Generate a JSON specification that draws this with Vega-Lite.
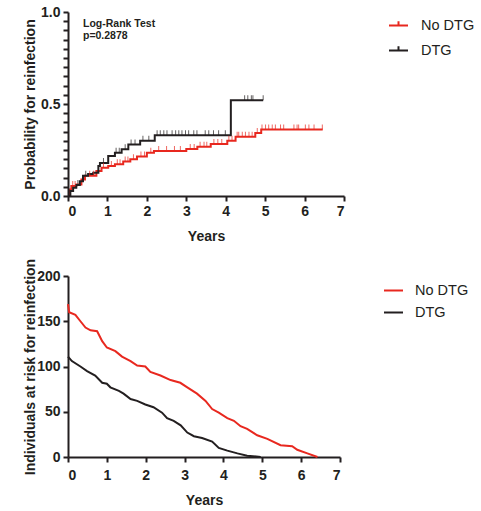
{
  "$schema": "https://vega.github.io/schema/vega-lite/v6.json",
  "padding": {"left": 22, "top": 5, "right": 5, "bottom": 5},
  "background": "white",
  "config": {
    "view": {"stroke": null},
    "font": "Liberation Sans",
    "axis": {
      "grid": false,
      "domainColor": "#231f20",
      "domainWidth": 2,
      "tickColor": "#231f20",
      "tickWidth": 2,
      "tickSize": 5,
      "labelOverlap": false,
      "labelFont": "Liberation Sans",
      "labelFontWeight": "bold",
      "labelFontSize": 14,
      "labelColor": "#231f20",
      "labelPadding": 3,
      "titleFont": "Liberation Sans",
      "titleFontWeight": "bold",
      "titleFontSize": 14,
      "titleColor": "#231f20"
    },
    "legend": {
      "labelFont": "Liberation Sans",
      "labelFontSize": 14.5,
      "labelColor": "#231f20",
      "padding": 0
    }
  },
  "datasets": {
    "km": [
      {"group": "No DTG", "t": 0, "p": 0},
      {"group": "No DTG", "t": 0.04, "p": 0.036},
      {"group": "No DTG", "t": 0.085, "p": 0.054},
      {"group": "No DTG", "t": 0.21, "p": 0.063},
      {"group": "No DTG", "t": 0.34, "p": 0.09},
      {"group": "No DTG", "t": 0.43, "p": 0.11},
      {"group": "No DTG", "t": 0.72, "p": 0.136},
      {"group": "No DTG", "t": 0.85, "p": 0.154},
      {"group": "No DTG", "t": 1.02, "p": 0.163},
      {"group": "No DTG", "t": 1.19, "p": 0.172},
      {"group": "No DTG", "t": 1.4, "p": 0.187},
      {"group": "No DTG", "t": 1.58, "p": 0.2},
      {"group": "No DTG", "t": 1.75, "p": 0.214},
      {"group": "No DTG", "t": 2.0, "p": 0.235},
      {"group": "No DTG", "t": 2.18, "p": 0.245},
      {"group": "No DTG", "t": 3.0, "p": 0.255},
      {"group": "No DTG", "t": 3.28, "p": 0.268},
      {"group": "No DTG", "t": 3.62, "p": 0.283},
      {"group": "No DTG", "t": 4.04, "p": 0.3},
      {"group": "No DTG", "t": 4.25, "p": 0.322},
      {"group": "No DTG", "t": 4.75, "p": 0.342},
      {"group": "No DTG", "t": 4.9, "p": 0.362},
      {"group": "No DTG", "t": 6.46, "p": 0.362},
      {"group": "DTG", "t": 0, "p": 0},
      {"group": "DTG", "t": 0.06, "p": 0.027},
      {"group": "DTG", "t": 0.13, "p": 0.045},
      {"group": "DTG", "t": 0.21, "p": 0.06},
      {"group": "DTG", "t": 0.3, "p": 0.08},
      {"group": "DTG", "t": 0.38, "p": 0.11},
      {"group": "DTG", "t": 0.51, "p": 0.12},
      {"group": "DTG", "t": 0.64, "p": 0.127},
      {"group": "DTG", "t": 0.77, "p": 0.163},
      {"group": "DTG", "t": 0.81, "p": 0.18},
      {"group": "DTG", "t": 1.02, "p": 0.217},
      {"group": "DTG", "t": 1.19, "p": 0.235},
      {"group": "DTG", "t": 1.36, "p": 0.254},
      {"group": "DTG", "t": 1.53, "p": 0.28},
      {"group": "DTG", "t": 1.83, "p": 0.3},
      {"group": "DTG", "t": 2.2, "p": 0.33},
      {"group": "DTG", "t": 4.13, "p": 0.52},
      {"group": "DTG", "t": 4.95, "p": 0.52}
    ],
    "censor": [
      {"group": "No DTG", "t": 0.12, "p": 0.054},
      {"group": "No DTG", "t": 0.18, "p": 0.054},
      {"group": "No DTG", "t": 0.55, "p": 0.11},
      {"group": "No DTG", "t": 0.65, "p": 0.11},
      {"group": "No DTG", "t": 0.9, "p": 0.154},
      {"group": "No DTG", "t": 1.1, "p": 0.163},
      {"group": "No DTG", "t": 1.25, "p": 0.172},
      {"group": "No DTG", "t": 1.32, "p": 0.172},
      {"group": "No DTG", "t": 1.45, "p": 0.187},
      {"group": "No DTG", "t": 1.52, "p": 0.187},
      {"group": "No DTG", "t": 1.66, "p": 0.2},
      {"group": "No DTG", "t": 1.85, "p": 0.214},
      {"group": "No DTG", "t": 1.94, "p": 0.214},
      {"group": "No DTG", "t": 2.1, "p": 0.235},
      {"group": "No DTG", "t": 2.3, "p": 0.245},
      {"group": "No DTG", "t": 2.5, "p": 0.245},
      {"group": "No DTG", "t": 2.7, "p": 0.245},
      {"group": "No DTG", "t": 2.85, "p": 0.245},
      {"group": "No DTG", "t": 3.1, "p": 0.255},
      {"group": "No DTG", "t": 3.2, "p": 0.255},
      {"group": "No DTG", "t": 3.35, "p": 0.268},
      {"group": "No DTG", "t": 3.45, "p": 0.268},
      {"group": "No DTG", "t": 3.52, "p": 0.268},
      {"group": "No DTG", "t": 3.7, "p": 0.283},
      {"group": "No DTG", "t": 3.8, "p": 0.283},
      {"group": "No DTG", "t": 3.9, "p": 0.283},
      {"group": "No DTG", "t": 4.08, "p": 0.3},
      {"group": "No DTG", "t": 4.16, "p": 0.3},
      {"group": "No DTG", "t": 4.29, "p": 0.322},
      {"group": "No DTG", "t": 4.33, "p": 0.322},
      {"group": "No DTG", "t": 4.42, "p": 0.322},
      {"group": "No DTG", "t": 4.5, "p": 0.322},
      {"group": "No DTG", "t": 4.59, "p": 0.322},
      {"group": "No DTG", "t": 4.67, "p": 0.322},
      {"group": "No DTG", "t": 4.8, "p": 0.342},
      {"group": "No DTG", "t": 4.92, "p": 0.362},
      {"group": "No DTG", "t": 5.01, "p": 0.362},
      {"group": "No DTG", "t": 5.09, "p": 0.362},
      {"group": "No DTG", "t": 5.18, "p": 0.362},
      {"group": "No DTG", "t": 5.26, "p": 0.362},
      {"group": "No DTG", "t": 5.39, "p": 0.362},
      {"group": "No DTG", "t": 5.47, "p": 0.362},
      {"group": "No DTG", "t": 5.73, "p": 0.362},
      {"group": "No DTG", "t": 5.81, "p": 0.362},
      {"group": "No DTG", "t": 5.85, "p": 0.362},
      {"group": "No DTG", "t": 6.02, "p": 0.362},
      {"group": "No DTG", "t": 6.11, "p": 0.362},
      {"group": "No DTG", "t": 6.24, "p": 0.362},
      {"group": "No DTG", "t": 6.45, "p": 0.362},
      {"group": "DTG", "t": 0.25, "p": 0.06},
      {"group": "DTG", "t": 0.45, "p": 0.11},
      {"group": "DTG", "t": 0.9, "p": 0.18},
      {"group": "DTG", "t": 1.22, "p": 0.235},
      {"group": "DTG", "t": 1.3, "p": 0.235},
      {"group": "DTG", "t": 1.45, "p": 0.254},
      {"group": "DTG", "t": 1.6, "p": 0.28},
      {"group": "DTG", "t": 1.7, "p": 0.28},
      {"group": "DTG", "t": 1.9, "p": 0.3},
      {"group": "DTG", "t": 2.05, "p": 0.3},
      {"group": "DTG", "t": 2.26, "p": 0.33},
      {"group": "DTG", "t": 2.34, "p": 0.33},
      {"group": "DTG", "t": 2.43, "p": 0.33},
      {"group": "DTG", "t": 2.51, "p": 0.33},
      {"group": "DTG", "t": 2.64, "p": 0.33},
      {"group": "DTG", "t": 2.73, "p": 0.33},
      {"group": "DTG", "t": 2.81, "p": 0.33},
      {"group": "DTG", "t": 2.89, "p": 0.33},
      {"group": "DTG", "t": 2.98, "p": 0.33},
      {"group": "DTG", "t": 3.06, "p": 0.33},
      {"group": "DTG", "t": 3.19, "p": 0.33},
      {"group": "DTG", "t": 3.27, "p": 0.33},
      {"group": "DTG", "t": 3.48, "p": 0.33},
      {"group": "DTG", "t": 3.57, "p": 0.33},
      {"group": "DTG", "t": 3.69, "p": 0.33},
      {"group": "DTG", "t": 3.82, "p": 0.33},
      {"group": "DTG", "t": 3.99, "p": 0.33},
      {"group": "DTG", "t": 4.48, "p": 0.52},
      {"group": "DTG", "t": 4.56, "p": 0.52},
      {"group": "DTG", "t": 4.65, "p": 0.52},
      {"group": "DTG", "t": 4.69, "p": 0.52},
      {"group": "DTG", "t": 4.95, "p": 0.52}
    ],
    "note": [
      {"t": 0.38, "p": 0.935, "label": "Log-Rank Test"},
      {"t": 0.38, "p": 0.868, "label": "p=0.2878"}
    ],
    "risk": [
      {"group": "No DTG", "t": 0, "n": 169},
      {"group": "No DTG", "t": 0.03, "n": 160},
      {"group": "No DTG", "t": 0.19, "n": 157},
      {"group": "No DTG", "t": 0.32, "n": 150},
      {"group": "No DTG", "t": 0.45, "n": 143},
      {"group": "No DTG", "t": 0.58, "n": 140},
      {"group": "No DTG", "t": 0.75, "n": 139},
      {"group": "No DTG", "t": 0.88, "n": 128},
      {"group": "No DTG", "t": 1.0, "n": 121},
      {"group": "No DTG", "t": 1.22, "n": 117},
      {"group": "No DTG", "t": 1.39, "n": 111},
      {"group": "No DTG", "t": 1.61, "n": 106},
      {"group": "No DTG", "t": 1.78, "n": 101},
      {"group": "No DTG", "t": 1.99, "n": 100},
      {"group": "No DTG", "t": 2.12, "n": 94},
      {"group": "No DTG", "t": 2.38, "n": 90},
      {"group": "No DTG", "t": 2.64, "n": 85},
      {"group": "No DTG", "t": 2.89, "n": 82},
      {"group": "No DTG", "t": 3.07, "n": 77},
      {"group": "No DTG", "t": 3.32, "n": 70},
      {"group": "No DTG", "t": 3.54, "n": 62},
      {"group": "No DTG", "t": 3.71, "n": 53},
      {"group": "No DTG", "t": 3.88, "n": 49},
      {"group": "No DTG", "t": 4.1, "n": 43},
      {"group": "No DTG", "t": 4.27, "n": 40},
      {"group": "No DTG", "t": 4.44, "n": 34},
      {"group": "No DTG", "t": 4.61, "n": 31},
      {"group": "No DTG", "t": 4.87, "n": 24},
      {"group": "No DTG", "t": 5.13, "n": 20},
      {"group": "No DTG", "t": 5.47, "n": 13},
      {"group": "No DTG", "t": 5.77, "n": 12},
      {"group": "No DTG", "t": 5.9, "n": 8},
      {"group": "No DTG", "t": 6.16, "n": 4},
      {"group": "No DTG", "t": 6.42, "n": 0},
      {"group": "DTG", "t": 0, "n": 111},
      {"group": "DTG", "t": 0.1, "n": 106},
      {"group": "DTG", "t": 0.32, "n": 100},
      {"group": "DTG", "t": 0.49, "n": 95},
      {"group": "DTG", "t": 0.7, "n": 90},
      {"group": "DTG", "t": 0.88, "n": 82},
      {"group": "DTG", "t": 1.0, "n": 81},
      {"group": "DTG", "t": 1.09, "n": 77},
      {"group": "DTG", "t": 1.31, "n": 73},
      {"group": "DTG", "t": 1.43, "n": 70},
      {"group": "DTG", "t": 1.61, "n": 64},
      {"group": "DTG", "t": 1.78, "n": 62},
      {"group": "DTG", "t": 1.99, "n": 58},
      {"group": "DTG", "t": 2.2, "n": 55},
      {"group": "DTG", "t": 2.42, "n": 49},
      {"group": "DTG", "t": 2.55, "n": 43},
      {"group": "DTG", "t": 2.72, "n": 40},
      {"group": "DTG", "t": 2.9, "n": 35},
      {"group": "DTG", "t": 3.07, "n": 27},
      {"group": "DTG", "t": 3.24, "n": 23},
      {"group": "DTG", "t": 3.45, "n": 21},
      {"group": "DTG", "t": 3.71, "n": 17},
      {"group": "DTG", "t": 3.88, "n": 10},
      {"group": "DTG", "t": 4.1, "n": 7},
      {"group": "DTG", "t": 4.36, "n": 4},
      {"group": "DTG", "t": 4.61, "n": 1.5},
      {"group": "DTG", "t": 4.96, "n": 0}
    ]
  },
  "resolve": {"scale": {"color": "independent"}, "legend": {"color": "independent"}},
  "vconcat": [
    {
      "width": 276,
      "height": 184,
      "encoding": {
        "x": {"field": "t", "type": "quantitative", "scale": {"domain": [0, 7], "nice": false},
              "axis": {"title": "Years", "values": [0,1,2,3,4,5,6,7], "titlePadding": 11}},
        "y": {"field": "p", "type": "quantitative", "scale": {"domain": [0, 1], "nice": false},
              "axis": {"title": "Probability for reinfection", "zindex": 1, "titleX": -31, "titleBaseline": "bottom",
                       "values": [0,0.05,0.1,0.15,0.2,0.25,0.3,0.35,0.4,0.45,0.5,0.55,0.6,0.65,0.7,0.75,0.8,0.85,0.9,0.95,1],
                       "labelExpr": "(datum.value == 0 || datum.value == 0.5 || datum.value == 1) ? format(datum.value, '.1f') : ''"}}
      },
      "layer": [
        {
          "data": {"name": "km"},
          "mark": {"type": "line", "interpolate": "step-after", "strokeWidth": 2},
          "encoding": {
            "color": {"field": "group", "type": "nominal",
                      "scale": {"domain": ["No DTG", "DTG"], "range": ["#e8281f", "#231f20"]},
                      "legend": {"orient": "none", "legendX": 320, "legendY": 3, "title": null,
                                 "symbolType": "M-1,0H1M0,0V-0.45", "symbolSize": 361, "symbolStrokeWidth": 2,
                                 "labelOffset": 12, "rowPadding": 8}}
          }
        },
        {
          "data": {"name": "censor"},
          "mark": {"type": "tick", "orient": "vertical", "size": 5, "thickness": 1, "yOffset": -2.5},
          "encoding": {
            "color": {"field": "group", "type": "nominal", "legend": null}
          }
        },
        {
          "data": {"name": "note"},
          "mark": {"type": "text", "align": "left", "baseline": "middle", "fontSize": 10.5, "fontWeight": "bold", "color": "#231f20", "font": "Liberation Sans"},
          "encoding": {
            "text": {"field": "label"}
          }
        }
      ]
    },
    {
      "width": 272,
      "height": 181,
      "data": {"name": "risk"},
      "mark": {"type": "line", "strokeWidth": 2},
      "encoding": {
        "x": {"field": "t", "type": "quantitative", "scale": {"domain": [0, 7], "nice": false},
              "axis": {"title": "Years", "values": [0,1,2,3,4,5,6,7], "labelPadding": 6, "titlePadding": 11}},
        "y": {"field": "n", "type": "quantitative", "scale": {"domain": [0, 200], "nice": false},
              "axis": {"title": "Individuals at risk for reinfection", "values": [0,50,100,150,200], "titleX": -31, "titleBaseline": "bottom"}},
        "color": {"field": "group", "type": "nominal",
                  "scale": {"domain": ["No DTG", "DTG"], "range": ["#e8281f", "#231f20"]},
                  "legend": {"orient": "none", "legendX": 315, "legendY": 4, "title": null,
                             "symbolType": "stroke", "symbolSize": 361, "symbolStrokeWidth": 2,
                             "labelOffset": 11, "rowPadding": 5}}
      }
    }
  ],
  "spacing": 15
}
